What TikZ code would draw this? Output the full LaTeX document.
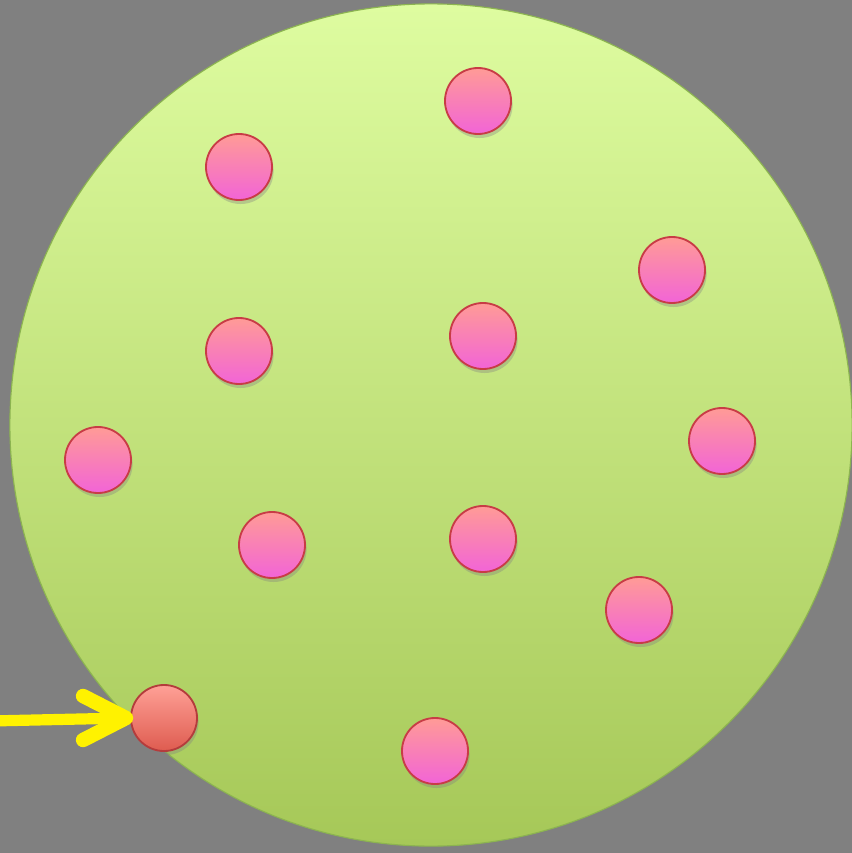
\documentclass[tikz,border=0pt]{standalone}
\usepackage{tikz}
\usetikzlibrary{positioning,calc}
\usetikzlibrary{arrows.meta,shadows}
\definecolor{BackGray}{RGB}{128,128,128}
\definecolor{FieldTop}{RGB}{222,252,160}
\definecolor{FieldBottom}{RGB}{166,200,88}
\definecolor{FieldEdge}{RGB}{140,180,80}
\definecolor{BallTop}{RGB}{255,155,150}
\definecolor{BallBottom}{RGB}{242,100,215}
\definecolor{BallEdge}{RGB}{200,60,70}
\definecolor{RedTop}{RGB}{255,160,150}
\definecolor{RedBottom}{RGB}{222,92,80}
\definecolor{RedEdge}{RGB}{180,60,60}
\tikzset{
  field/.style={circle,draw=FieldEdge,line width=0.8pt,top color=FieldTop,
    bottom color=FieldBottom,minimum size=21.05cm,inner sep=0pt},
  ball/.style={circle,draw=BallEdge,line width=1.3pt,top color=BallTop,
    bottom color=BallBottom,minimum size=1.65cm,inner sep=0pt,
    drop shadow={shadow xshift=0.04cm,shadow yshift=-0.1cm,opacity=0.35}},
  odd/.style={ball,draw=RedEdge,top color=RedTop,bottom color=RedBottom},
  pointer/.style={draw=yellow,line width=0.28cm,line cap=round},
  barb/.style={draw=yellow,line width=0.36cm,line cap=round,line join=round},
}

\begin{document}
\begin{tikzpicture}[x=0.025cm,y=-0.025cm]
\fill[BackGray] (0,0) rectangle (852,853);
\useasboundingbox (0,0) rectangle (852,853);
\node[field] (field) at (431,425) {};
\coordinate (p1) at (478,101);
\coordinate (p2) at (239,167);
\coordinate (p3) at (672,270);
\coordinate (p4) at (239,351);
\coordinate (p5) at (483,336);
\coordinate (p6) at (98,460);
\coordinate (p7) at (722,441);
\coordinate (p8) at (272,545);
\coordinate (p9) at (483,539);
\coordinate (p10) at (639,610);
\coordinate (p11) at (164,718);
\coordinate (p12) at (435,751);
\coordinate (tail) at (-10,721);
\node[ball] (b1) at (p1) {};
\node[ball] (b2) at (p2) {};
\node[ball] (b3) at (p3) {};
\node[ball] (b4) at (p4) {};
\node[ball] (b5) at (p5) {};
\node[ball] (b6) at (p6) {};
\node[ball] (b7) at (p7) {};
\node[ball] (b8) at (p8) {};
\node[ball] (b9) at (p9) {};
\node[ball] (b10) at (p10) {};
\node[odd] (b11) at (p11) {};
\node[ball] (b12) at (p12) {};
\coordinate (tip) at ([xshift=-0.1cm]b11.west);
\draw[pointer] (tail) -- (tip);
\draw[barb] ($(tip)+(-43,-22)$) -- (tip) -- ($(tip)+(-43,22)$);
\end{tikzpicture}
\end{document}
